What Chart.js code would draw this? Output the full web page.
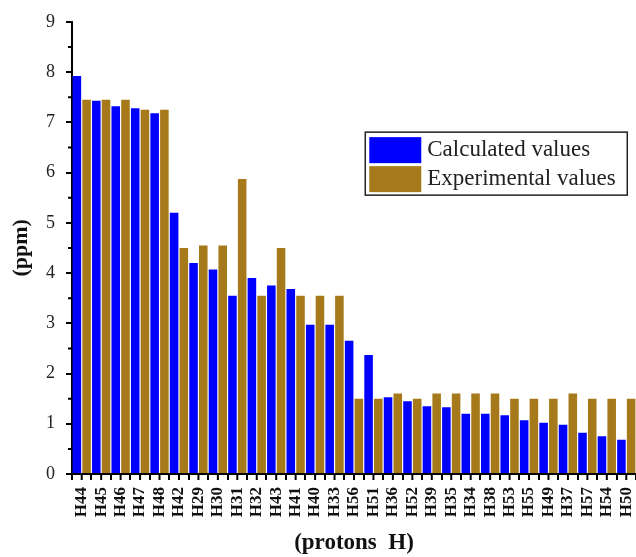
<!DOCTYPE html>
<html>
<head>
<meta charset="utf-8">
<script src="https://cdn.jsdelivr.net/npm/chart.js@4.4.1/dist/chart.umd.min.js"></script>
<style>
    html, body { margin: 0; padding: 0; background: #fff; }
    #box { width: 636px; height: 557px; }
</style>
</head>
<body>
<div id="box"><canvas id="myChart" width="636" height="557"></canvas></div>
<script>
const protons = ['H44', 'H45', 'H46', 'H47', 'H48', 'H42', 'H29', 'H30', 'H31', 'H32',
    'H43', 'H41', 'H40', 'H33', 'H56', 'H51', 'H36', 'H52', 'H39', 'H35',
    'H34', 'H38', 'H53', 'H55', 'H49', 'H37', 'H57', 'H54', 'H50'];
const calculated = [7.92, 7.43, 7.32, 7.28, 7.18, 5.20, 4.20, 4.07, 3.55, 3.90,
    3.75, 3.68, 2.97, 2.97, 2.65, 2.37, 1.53, 1.45, 1.35, 1.33,
    1.20, 1.20, 1.17, 1.07, 1.02, 0.98, 0.82, 0.75, 0.68];
const experimental = [7.45, 7.45, 7.45, 7.25, 7.25, 4.50, 4.55, 4.55, 5.87, 3.55,
    4.50, 3.55, 3.55, 3.55, 1.50, 1.50, 1.60, 1.50, 1.60, 1.60,
    1.60, 1.60, 1.50, 1.50, 1.50, 1.60, 1.50, 1.50, 1.50];
const yTicks = [0, 1, 2, 3, 4, 5, 6, 7, 8, 9];

const serif = "'Liberation Serif', 'Times New Roman', serif";

// extra tick marks: minor ticks on y, centre ticks on x
const extraTicks = {
    id: 'extraTicks',
    afterDraw(chart) {
        const c = chart.ctx;
        const xs = chart.scales.x;
        const ys = chart.scales.y;
        c.save();
        c.strokeStyle = '#000';
        c.lineWidth = 2;
        c.beginPath();
        for (let v = 0.5; v < 9; v += 1) {
            const py = ys.getPixelForValue(v);
            c.moveTo(ys.right - 4, py);
            c.lineTo(ys.right, py);
        }
        protons.forEach((p, i) => {
            const px = xs.getPixelForValue(i);
            c.moveTo(px, xs.top);
            c.lineTo(px, xs.top + 6);
        });
        c.stroke();
        c.restore();
    }
};

// legend box inside the plot
const boxLegend = {
    id: 'boxLegend',
    afterDraw(chart) {
        const c = chart.ctx;
        const a = chart.chartArea;
        const x = a.left + (a.right - a.left) * 0.52;
        const y = a.top + (a.bottom - a.top) * 0.244;
        const w = 262, h = 63;
        c.save();
        c.fillStyle = '#fff';
        c.fillRect(x, y, w, h);
        c.strokeStyle = '#222';
        c.lineWidth = 1.5;
        c.strokeRect(x, y, w, h);
        c.font = '23px ' + serif;
        c.textBaseline = 'middle';
        chart.data.datasets.forEach((ds, i) => {
            const ry = y + 5 + i * 29;
            c.fillStyle = ds.backgroundColor;
            c.fillRect(x + 4, ry, 52, 26);
            c.fillStyle = '#222';
            c.fillText(ds.label, x + 62, ry + 13);
        });
        c.restore();
    }
};

const ctx = document.getElementById('myChart').getContext('2d');
const chart = new Chart(ctx, {
    type: 'bar',
    data: {
        labels: protons,
        datasets: [{
            label: 'Calculated values',
            data: calculated,
            backgroundColor: '#0000ff',
            borderWidth: 0
        }, {
            label: 'Experimental values',
            data: experimental,
            backgroundColor: '#a67a1a',
            borderWidth: 0
        }]
    },
    options: {
        responsive: false,
        animation: false,
        layout: {
            padding: { top: 20, right: 0, left: 0, bottom: 0 }
        },
        plugins: {
            legend: { display: false },
            tooltip: { enabled: false }
        },
        datasets: {
            bar: {
                barPercentage: 0.88,
                categoryPercentage: 1
            }
        },
        scales: {
            x: {
                afterFit(scale) {
                    scale.height = 83;
                    scale.paddingLeft = 0;
                    scale.paddingRight = 0;
                },
                grid: {
                    offset: true,
                    drawOnChartArea: false,
                    color: '#000',
                    lineWidth: 2,
                    tickLength: 6
                },
                border: { color: '#000', width: 2 },
                ticks: {
                    autoSkip: false,
                    minRotation: 90,
                    maxRotation: 90,
                    padding: 7,
                    color: '#111',
                    font: { family: serif, size: 17, weight: 'bold' }
                },
                title: {
                    display: true,
                    text: '(protons  H)',
                    color: '#111',
                    padding: { top: 0, bottom: 0 },
                    font: { family: serif, size: 23, weight: 'bold' }
                }
            },
            y: {
                min: 0,
                max: 9,
                afterFit(scale) { scale.width = 72; },
                afterBuildTicks(scale) {
                    scale.ticks = yTicks.map(v => ({ value: v }));
                },
                grid: {
                    drawOnChartArea: false,
                    color: '#000',
                    lineWidth: 2,
                    tickLength: 6
                },
                border: { color: '#000', width: 2 },
                ticks: {
                    padding: 11,
                    color: '#222',
                    font: { family: serif, size: 18 }
                },
                title: {
                    display: true,
                    text: '(ppm)',
                    color: '#111',
                    padding: { top: 8, bottom: 0 },
                    font: { family: serif, size: 22, weight: 'bold' }
                }
            }
        }
    },
    plugins: [extraTicks, boxLegend]
});
</script>
</body>
</html>
